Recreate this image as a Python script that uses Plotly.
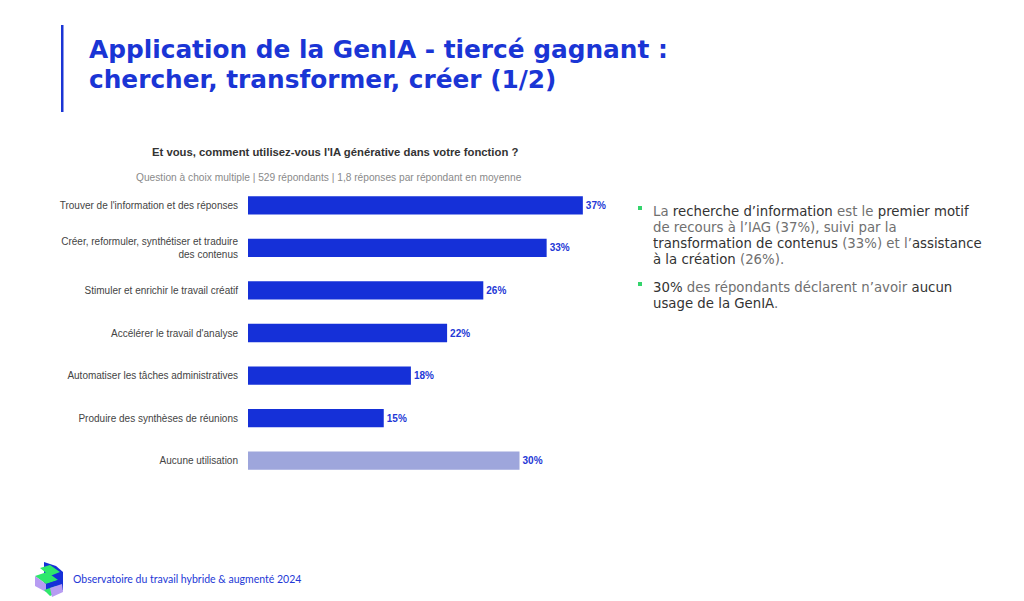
import plotly.graph_objects as go

categories = [
    "Trouver de l'information et des réponses",
    "Créer, reformuler, synthétiser et traduire<br>des contenus",
    "Stimuler et enrichir le travail créatif",
    "Accélérer le travail d'analyse",
    "Automatiser les tâches administratives",
    "Produire des synthèses de réunions",
    "Aucune utilisation",
]
values = [37, 33, 26, 22, 18, 15, 30]
value_labels = ["37%", "33%", "26%", "22%", "18%", "15%", "30%"]

title_lines = ["Application de la GenIA - tiercé gagnant :", "chercher, transformer, créer (1/2)"]
chart_question = "Et vous, comment utilisez-vous l'IA générative dans votre fonction ?"
chart_subtitle = "Question à choix multiple | 529 répondants | 1,8 réponses par répondant en moyenne"
footer_text = "Observatoire du travail hybride & augmenté 2024"

DARK = "#333333"
GREY = "#707070"
bullet_lines = [
    [f"La <span style='color:{DARK}'>recherche d’information</span> est le <span style='color:{DARK}'>premier motif</span>",
     "de recours à l’IAG (37%), suivi par la",
     f"<span style='color:{DARK}'>transformation de contenus</span> (33%) et l’<span style='color:{DARK}'>assistance</span>",
     f"<span style='color:{DARK}'>à la création</span> (26%)."],
    [f"<span style='color:{DARK}'>30%</span> des répondants déclarent n’avoir <span style='color:{DARK}'>aucun</span>",
     f"<span style='color:{DARK}'>usage de la GenIA</span>."],
]

BLUE = "#1530D8"
LIGHT = "#9EA6DC"
bar_colors = [BLUE] * 6 + [LIGHT]

# page body has an 8px margin: reference pixel coords are shifted by OFF
OFF = 8
W, H = 1024 - OFF, 601 - OFF
L, T = 248 - OFF, 184 - OFF
R = W - (610 - OFF)
B = H - (482 - OFF)
PW, PH = W - L - R, H - T - B


def px(x):
    return (x - OFF - L) / PW


def py(y):
    return 1 - (y - OFF - T) / PH


fig = go.Figure(
    go.Bar(
        x=values,
        y=categories,
        orientation="h",
        marker=dict(color=bar_colors, line=dict(width=0)),
        width=0.43,
        text=value_labels,
        textposition="outside",
        cliponaxis=False,
        textfont=dict(family="Liberation Sans, Arial", size=10, color="#2438D6", weight="bold"),
        hoverinfo="skip",
    )
)

fig.update_layout(
    width=W,
    height=H,
    margin=dict(l=L, r=R, t=T, b=B, autoexpand=False),
    paper_bgcolor="white",
    plot_bgcolor="white",
    showlegend=False,
    xaxis=dict(range=[0, 40], visible=False, fixedrange=True),
    yaxis=dict(
        autorange="reversed",
        showgrid=False,
        zeroline=False,
        showline=False,
        ticks="",
        ticklabelstandoff=9,
        tickfont=dict(family="Liberation Sans, Arial", size=10, color="#444444"),
        fixedrange=True,
    ),
    font=dict(family="Liberation Sans, Arial"),
)

annotations = []
for i, line in enumerate(title_lines):
    annotations.append(dict(
        xref="paper", yref="paper", x=px(87), y=py(49 + 30 * i),
        xanchor="left", yanchor="middle", text=f"<b>{line}</b>", showarrow=False,
        font=dict(family="DejaVu Sans", size=24.8, color="#1A35D5"),
    ))
annotations.append(dict(
    xref="paper", yref="paper", x=px(335), y=py(152), xanchor="center", yanchor="middle",
    text=f"<b>{chart_question}</b>", showarrow=False,
    font=dict(family="Liberation Sans, Arial", size=11.3, color="#333333"),
))
annotations.append(dict(
    xref="paper", yref="paper", x=px(329), y=py(177), xanchor="center", yanchor="middle",
    text=chart_subtitle, showarrow=False,
    font=dict(family="Liberation Sans, Arial", size=10.2, color="#8a8a8a"),
))
shapes = []
y0s = [211, 287]
for b, lines in enumerate(bullet_lines):
    yb = y0s[b]
    shapes.append(dict(type="rect", xref="paper", yref="paper",
                       x0=px(638), x1=px(642), y0=py(yb - 5), y1=py(yb - 1),
                       fillcolor="#34D46C", line=dict(width=0)))
    for j, line in enumerate(lines):
        annotations.append(dict(
            xref="paper", yref="paper", x=px(651), y=py(yb + 16 * j), xanchor="left", yanchor="middle",
            text=line, showarrow=False,
            font=dict(family="DejaVu Sans", size=13.3, color=GREY),
        ))
annotations.append(dict(
    xref="paper", yref="paper", x=px(71), y=py(579), xanchor="left", yanchor="middle",
    text=footer_text, showarrow=False,
    font=dict(family="Lato", size=10.5, color="#2438D6"),
))

shapes.append(dict(type="rect", xref="paper", yref="paper",
                   x0=px(61), x1=px(63.5), y0=py(112), y1=py(25),
                   fillcolor="#1A35D5", line=dict(width=0)))

# Logo (approximate isometric block motif)
def poly(points, color):
    d = "M " + " L ".join(f"{px(x)},{py(y)}" for x, y in points) + " Z"
    return dict(type="path", xref="paper", yref="paper", path=d,
                fillcolor=color, line=dict(width=0))

shapes += [
    poly([(44, 562), (56, 566), (63, 572), (63, 590), (56, 594), (44, 590)], "#1530D8"),
    poly([(40, 568), (50, 565), (60, 572), (50, 576)], "#2ee86b"),
    poly([(35, 576), (47, 572), (58, 580), (46, 584)], "#2ee86b"),
    poly([(35, 576), (46, 584), (46, 592), (35, 586)], "#b79cf2"),
    poly([(46, 584), (58, 580), (58, 588), (46, 592)], "#1530D8"),
    poly([(44, 590), (56, 586), (62, 590), (50, 596)], "#2ee86b"),
    poly([(50, 588), (62, 584), (63, 592), (52, 597)], "#b79cf2"),
]

fig.update_layout(annotations=annotations, shapes=shapes)
fig.write_html("out.html")
